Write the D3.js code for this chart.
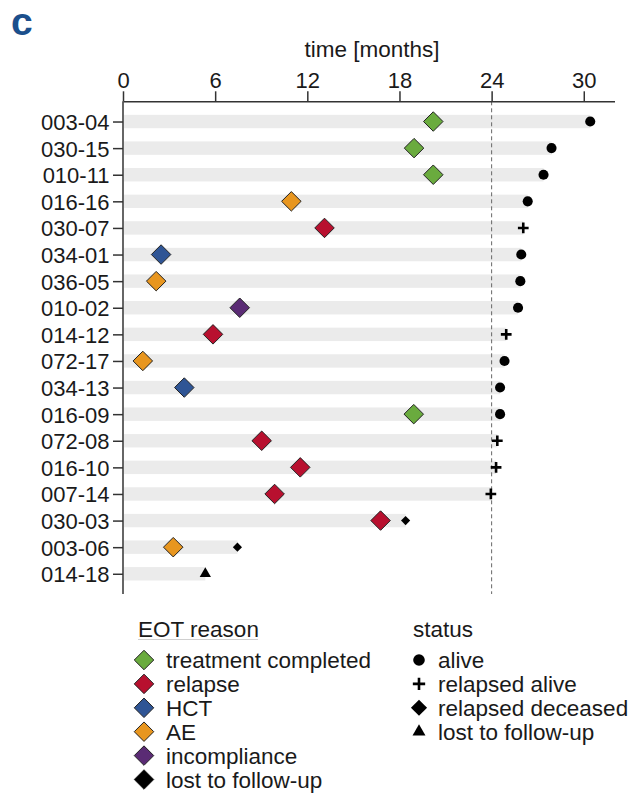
<!DOCTYPE html>
<html>
<head>
<meta charset="utf-8">
<script src="https://cdn.jsdelivr.net/npm/d3@7"></script>
<style>
  body { margin: 0; background: #fff; }
  svg { font-family: "Liberation Sans", Arial, sans-serif; }
  .axis text { font-size: 22px; fill: #1a1a1a; }
  .axis path, .axis line { stroke: #333; stroke-width: 1.5; }
  .lg { font-size: 22.5px; fill: #1a1a1a; }
</style>
</head>
<body>
<div id="chart"></div>
<script>
// patients, top to bottom
var ids = ['003-04', '030-15', '010-11', '016-16', '030-07', '034-01', '036-05', '010-02', '014-12',
           '072-17', '034-13', '016-09', '072-08', '016-10', '007-14', '030-03', '003-06', '014-18'];

// end of treatment (months) and reason
var eot_time = [20.2, 18.95, 20.2, 10.96, 13.12, 2.48, 2.16, 7.6, 5.86,
                1.29, 3.99, 18.93, 9.03, 11.54, 9.87, 16.77, 3.27, null];
var eot_reason = ['treatment completed', 'treatment completed', 'treatment completed', 'AE', 'relapse',
                  'HCT', 'AE', 'incompliance', 'relapse', 'AE', 'HCT', 'treatment completed',
                  'relapse', 'relapse', 'relapse', 'relapse', 'AE', null];

// last follow-up (months) and status
var status_time = [30.42, 27.9, 27.38, 26.35, 26.06, 25.93, 25.87, 25.72, 24.95,
                   24.84, 24.55, 24.55, 24.37, 24.29, 23.95, 18.4, 7.45, 5.36];
// (not called "status": that name is taken by window.status)
var status_label = ['alive', 'alive', 'alive', 'alive', 'relapsed alive', 'alive', 'alive', 'alive',
                    'relapsed alive', 'alive', 'alive', 'alive', 'relapsed alive', 'relapsed alive',
                    'relapsed alive', 'relapsed deceased', 'relapsed deceased', 'lost to follow-up'];

var x_ticks = [0, 6, 12, 18, 24, 30];
var eot_reasons = ['treatment completed', 'relapse', 'HCT', 'AE', 'incompliance', 'lost to follow-up'];
var eot_colors = ['#6aab3e', '#b8102f', '#2f5595', '#e8961f', '#5a2b74', '#000000'];
var statuses = ['alive', 'relapsed alive', 'relapsed deceased', 'lost to follow-up'];

var width = 636, height = 806;

var svg = d3.select('#chart').append('svg')
    .attr('width', width)
    .attr('height', height);

var x = d3.scaleLinear().domain([0, 32]).range([123, 614.5]);
var y = d3.scalePoint().domain(ids).range([101.3, 594]).padding(0.76);
var color = d3.scaleOrdinal().domain(eot_reasons).range(eot_colors);

// rotated square, same width and height
var diamond = {
    draw: function(ctx, size) {
        var h = Math.sqrt(size / 2);
        ctx.moveTo(0, -h); ctx.lineTo(h, 0); ctx.lineTo(0, h); ctx.lineTo(-h, 0); ctx.closePath();
    }
};
var plus = {
    draw: function(ctx, size) {
        var h = Math.sqrt(size) / 2;
        ctx.moveTo(-h, 0); ctx.lineTo(h, 0); ctx.moveTo(0, -h); ctx.lineTo(0, h);
    }
};

function status_symbol(s, big) {
    var k = big ? 1.15 : 1;
    if (s === 'alive') return d3.symbol().type(d3.symbolCircle).size(80 * k * k)();
    if (s === 'relapsed alive') return d3.symbol().type(plus).size(115 * k * k)();
    if (s === 'relapsed deceased') return d3.symbol().type(diamond).size((big ? 130 : 42))();
    return d3.symbol().type(d3.symbolTriangle).size(55 * k * k)();
}

function draw_status(sel, s, big) {
    sel.append('path')
        .attr('d', status_symbol(s, big))
        .attr('fill', s === 'relapsed alive' ? 'none' : '#000')
        .attr('stroke', s === 'relapsed alive' ? '#000' : 'none')
        .attr('stroke-width', 2.6);
}

// panel letter
svg.append('text')
    .attr('x', 11).attr('y', 35)
    .attr('font-size', 39).attr('font-weight', 'bold')
    .attr('fill', '#1b4f8c')
    .text('c');

// background bars up to last follow-up
svg.append('g').selectAll('rect')
    .data(ids)
    .enter().append('rect')
        .attr('x', x(0) + 1)
        .attr('y', function(d) { return y(d) - 6.7; })
        .attr('width', function(d, i) { return x(status_time[i]) - x(0) - 1; })
        .attr('height', 13.4)
        .attr('fill', '#ebebeb');

// 24 month reference
svg.append('line')
    .attr('x1', x(24)).attr('x2', x(24))
    .attr('y1', 101.3).attr('y2', 594)
    .attr('stroke', '#666')
    .attr('stroke-width', 1)
    .attr('stroke-dasharray', '4,3');

// axes
svg.append('g')
    .attr('class', 'axis')
    .attr('transform', 'translate(0,101.3)')
    .call(d3.axisTop(x).tickValues(x_ticks).tickSize(10).tickSizeOuter(0).tickPadding(3));

svg.append('g')
    .attr('class', 'axis')
    .attr('transform', 'translate(' + x(0) + ',0)')
    .call(d3.axisLeft(y).tickSize(10).tickSizeOuter(0).tickPadding(3.5))
    .call(function(g) { g.select('.domain').attr('d', 'M0,101.3V594'); })
    .selectAll('.tick text').attr('dy', '0.36em');

svg.append('text')
    .attr('class', 'lg')
    .attr('x', 372).attr('y', 56.5)
    .attr('text-anchor', 'middle')
    .text('time [months]');

// status markers
svg.append('g').selectAll('g')
    .data(ids)
    .enter().append('g')
        .attr('transform', function(d, i) { return 'translate(' + x(status_time[i]) + ',' + y(d) + ')'; })
        .each(function(d, i) { draw_status(d3.select(this), status_label[i], false); });

// end of treatment diamonds
svg.append('g').selectAll('path')
    .data(ids.filter(function(d, i) { return eot_time[i] !== null; }))
    .enter().append('path')
        .attr('transform', function(d) {
            var i = ids.indexOf(d);
            return 'translate(' + x(eot_time[i]) + ',' + y(d) + ')';
        })
        .attr('d', d3.symbol().type(diamond).size(190)())
        .attr('fill', function(d) { return color(eot_reason[ids.indexOf(d)]); })
        .attr('stroke', '#222')
        .attr('stroke-width', 1);

// legends
var row0 = 660, row_step = 23.9;

var lg1 = svg.append('g');
lg1.append('text').attr('class', 'lg').attr('x', 138).attr('y', 636.5).text('EOT reason');
lg1.append('line')
    .attr('x1', 138).attr('x2', 258).attr('y1', 639.5).attr('y2', 639.5)
    .attr('stroke', '#cfcfcf').attr('stroke-width', 1);
var item1 = lg1.selectAll('g.item')
    .data(eot_reasons)
    .enter().append('g')
        .attr('class', 'item')
        .attr('transform', function(d, i) { return 'translate(144,' + (row0 + i * row_step) + ')'; });
item1.append('path')
    .attr('d', d3.symbol().type(diamond).size(190)())
    .attr('fill', function(d) { return color(d); })
    .attr('stroke', '#222')
    .attr('stroke-width', 1);
item1.append('text')
    .attr('class', 'lg')
    .attr('x', 22).attr('dy', '0.36em')
    .text(function(d) { return d; });

var lg2 = svg.append('g');
lg2.append('text').attr('class', 'lg').attr('x', 413).attr('y', 636.5).text('status');
var item2 = lg2.selectAll('g.item')
    .data(statuses)
    .enter().append('g')
        .attr('class', 'item')
        .attr('transform', function(d, i) { return 'translate(419,' + (row0 + i * row_step) + ')'; });
item2.each(function(d) { draw_status(d3.select(this), d, true); });
item2.append('text')
    .attr('class', 'lg')
    .attr('x', 19).attr('dy', '0.36em')
    .text(function(d) { return d; });
</script>
</body>
</html>
